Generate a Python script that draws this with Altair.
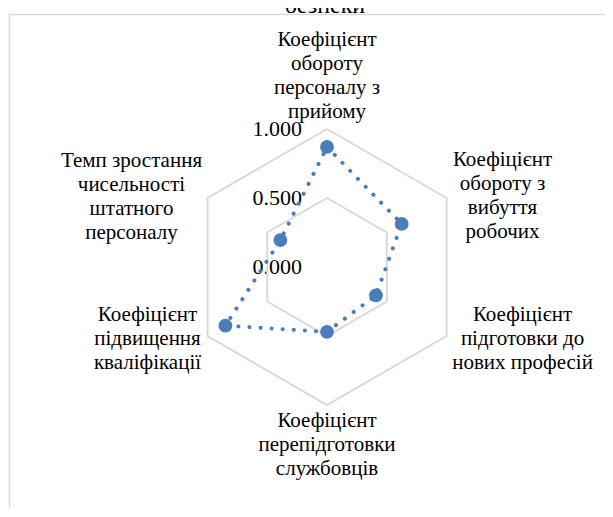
import altair as alt
import pandas as pd

# ---------------- data ----------------
categories = [
    "Коефіцієнт\nобороту\nперсоналу з\nприйому",
    "Коефіцієнт\nобороту з\nвибуття\nробочих",
    "Коефіцієнт\nпідготовки до\nнових професій",
    "Коефіцієнт\nперепідготовки\nслужбовців",
    "Коефіцієнт\nпідвищення\nкваліфікації",
    "Темп зростання\nчисельності\nштатного\nперсоналу",
]
values = [0.87, 0.625, 0.41, 0.47, 0.85, 0.39]
grid_levels = [0.5, 1.0]
tick_values = [1.0, 0.5, 0.0]
tick_labels = ["1.000", "0.500", "0.000"]
title_text = "безпеки"

# ---------------- layout / style ----------------
W, H = 597, 501
CX, CY, R = 319, 259, 138
x_dom = [-CX / R, (W - CX) / R]
y_dom = [-(H - CY) / R, CY / R]
BLUE = "#4A7EBB"
GRID = "#d9d9d9"
FONT = "Liberation Serif"
# offsets (px) of the first text line from the outer vertex of each axis
label_offsets = [(0, -89), (56, -38), (76, -21), (0, 16), (-60, -21), (-76, -37)]

n = len(categories)
ANG = f"PI/2 - 2*PI*datum.idx/{n}"

xs = alt.Scale(domain=x_dom, nice=False, zero=False)
ys = alt.Scale(domain=y_dom, nice=False, zero=False)
X = alt.X("px:Q", scale=xs, axis=None)
Y = alt.Y("py:Q", scale=ys, axis=None)

series_df = pd.DataFrame({
    "idx": list(range(n)) + [n],
    "value": values + [values[0]],
})

grid_rows = []
for lv in grid_levels:
    for i in range(n + 1):
        grid_rows.append({"level": lv, "idx": i, "value": lv})
grid_df = pd.DataFrame(grid_rows)

tick_df = pd.DataFrame({"idx": [0] * len(tick_values), "value": tick_values, "txt": tick_labels})
label_df = pd.DataFrame({"idx": list(range(n)), "value": [1.0] * n, "txt": categories})


def polar(ch):
    return ch.transform_calculate(
        theta_rad=ANG,
        px="datum.value*cos(datum.theta_rad)",
        py="datum.value*sin(datum.theta_rad)",
    )


label_layers = []
for i in range(n):
    dx, dy = label_offsets[i]
    label_layers.append(
        polar(alt.Chart(label_df)).transform_filter(f"datum.idx == {i}").mark_text(
            font=FONT, fontSize=21, align="center", baseline="middle", dx=dx, dy=dy,
            lineHeight=24, lineBreak="\n", color="black"
        ).encode(x=X, y=Y, text="txt:N")
    )

ticks = polar(alt.Chart(tick_df)).mark_text(
    font=FONT, fontSize=22, align="right", baseline="middle", dx=-25, color="black"
).encode(x=X, y=Y, text="txt:N")

one = pd.DataFrame({"t": [title_text]})
title = alt.Chart(one).mark_text(
    font=FONT, fontSize=24, align="center", baseline="alphabetic", color="black"
).encode(x=alt.value(317), y=alt.value(5), text="t:N")

grid = polar(alt.Chart(grid_df)).mark_line(color=GRID, strokeWidth=2).encode(
    x=X, y=Y, detail="level:N", order="idx:Q"
)

line = polar(alt.Chart(series_df)).mark_line(
    color=BLUE, strokeWidth=4, strokeDash=[0.1, 11], strokeCap="round"
).encode(x=X, y=Y, order="idx:Q")

points = polar(alt.Chart(series_df)).transform_filter(f"datum.idx < {n}").mark_circle(
    color=BLUE, size=190, opacity=1
).encode(x=X, y=Y)

frame_left = alt.Chart(one).mark_rule(color=GRID, strokeWidth=1.5).encode(
    x=alt.value(1.5), y=alt.value(6.5), y2=alt.value(H)
)
frame_top = alt.Chart(one).mark_rule(color=GRID, strokeWidth=1.5).encode(
    x=alt.value(1.5), x2=alt.value(W), y=alt.value(6.5)
)

chart = alt.layer(
    *label_layers, ticks, title, frame_left, frame_top, grid, line, points
).properties(
    width=W, height=H, autosize=alt.AutoSizeParams(type="none"), padding=0,
    background="white"
).configure(font=FONT).configure_text(font=FONT).configure_view(stroke=None)

chart.save("out.html", embed_options={"renderer": "svg", "actions": False})
